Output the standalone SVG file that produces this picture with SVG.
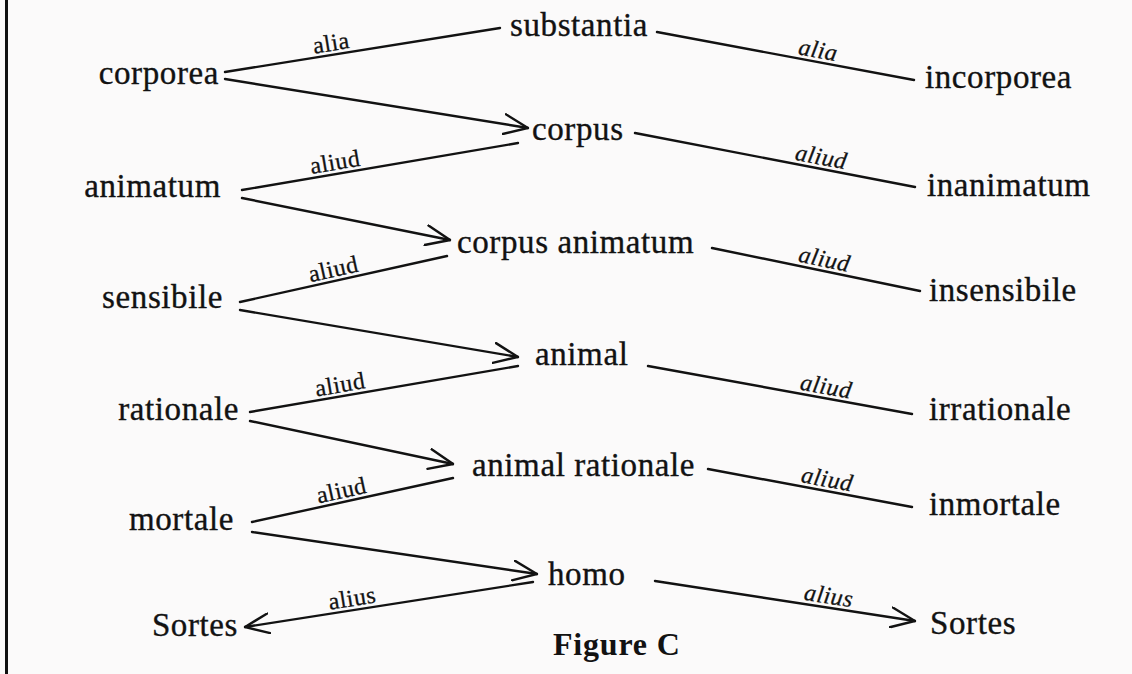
<svg xmlns="http://www.w3.org/2000/svg" width="1132" height="674" viewBox="0 0 1132 674">
<style>
.n{font-family:"Liberation Serif","Times New Roman",serif;font-size:33px;letter-spacing:0.6px;fill:#121212;stroke:#121212;stroke-width:0.35px}
.l{font-family:"Liberation Serif","Times New Roman",serif;font-size:24px;letter-spacing:0.5px;fill:#121212;stroke:#121212;stroke-width:0.3px;text-anchor:middle}
.i{font-style:italic}
.c line{stroke:#121212;stroke-width:2.4;stroke-linecap:round;fill:none}
.e{text-anchor:end}
.t{font-family:"Liberation Serif","Times New Roman",serif;font-size:32px;font-weight:bold;letter-spacing:0.8px;fill:#121212}
</style>
<defs>
<marker id="arr" viewBox="0 0 26 22" refX="25" refY="11" markerWidth="26" markerHeight="22" markerUnits="userSpaceOnUse" orient="auto">
<path d="M1,1 L25,11 L1,21" fill="none" stroke="#121212" stroke-width="2.4" stroke-linecap="round" stroke-linejoin="miter"/>
</marker>
</defs>
<rect width="1132" height="674" fill="#fbfafa"/>
<rect x="5" y="0" width="3" height="674" fill="#111"/>

<g class="c" id="connectors">
<line x1="225" y1="72" x2="500" y2="28"/>
<line x1="225" y1="79" x2="528" y2="128" marker-end="url(#arr)"/>
<line x1="657" y1="32" x2="914" y2="80"/>
<line x1="242" y1="190" x2="518" y2="143"/>
<line x1="242" y1="198" x2="450" y2="240" marker-end="url(#arr)"/>
<line x1="635" y1="133" x2="915" y2="187"/>
<line x1="240" y1="302" x2="447" y2="256"/>
<line x1="240" y1="310" x2="518" y2="357" marker-end="url(#arr)"/>
<line x1="712" y1="248" x2="920" y2="291"/>
<line x1="648" y1="366" x2="912" y2="414"/>
<line x1="250" y1="412" x2="518" y2="366"/>
<line x1="250" y1="421" x2="453" y2="464" marker-end="url(#arr)"/>
<line x1="708" y1="469" x2="912" y2="507"/>
<line x1="252" y1="522" x2="453" y2="478"/>
<line x1="252" y1="532" x2="537" y2="574" marker-end="url(#arr)"/>
<line x1="655" y1="581" x2="915" y2="621" marker-end="url(#arr)"/>
<line x1="533" y1="582" x2="245" y2="627" marker-end="url(#arr)"/>
</g>

<g id="labels">
<text class="l" transform="translate(333,54.7) rotate(-9.09)" y="-4">alia</text>
<text class="l i" transform="translate(816,61.7) rotate(10.58)" y="-4">alia</text>
<text class="l" transform="translate(337,173.8) rotate(-9.66)" y="-4">aliud</text>
<text class="l i" transform="translate(819,168.5) rotate(10.92)" y="-4">aliud</text>
<text class="l" transform="translate(336,280.7) rotate(-12.53)" y="-4">aliud</text>
<text class="l i" transform="translate(822,270.7) rotate(11.68)" y="-4">aliud</text>
<text class="l i" transform="translate(824,398) rotate(10.3)" y="-4">aliud</text>
<text class="l" transform="translate(342,396.2) rotate(-9.74)" y="-4">aliud</text>
<text class="l i" transform="translate(825,490.8) rotate(10.55)" y="-4">aliud</text>
<text class="l" transform="translate(344,501.9) rotate(-12.35)" y="-4">aliud</text>
<text class="l i" transform="translate(827,607.5) rotate(8.75)" y="-4">alius</text>
<text class="l" transform="translate(354,610) rotate(-8.88)" y="-4">alius</text>
</g>

<g id="n-substantia"><text class="n" x="510" y="36">substantia</text></g>
<g id="n-corporea"><text class="n e" x="219" y="84">corporea</text></g>
<g id="n-incorporea"><text class="n" x="925" y="88">incorporea</text></g>
<g id="n-corpus"><text class="n" x="532" y="140">corpus</text></g>
<g id="n-animatum"><text class="n e" x="221" y="197">animatum</text></g>
<g id="n-inanimatum"><text class="n" x="927" y="196">inanimatum</text></g>
<g id="n-corpus-animatum"><text class="n" x="457" y="253">corpus animatum</text></g>
<g id="n-sensibile"><text class="n e" x="223" y="308">sensibile</text></g>
<g id="n-insensibile"><text class="n" x="929" y="301">insensibile</text></g>
<g id="n-animal"><text class="n" x="535" y="365">animal</text></g>
<g id="n-rationale"><text class="n e" x="239" y="420">rationale</text></g>
<g id="n-irrationale"><text class="n" x="929" y="420">irrationale</text></g>
<g id="n-animal-rationale"><text class="n" x="472" y="476">animal rationale</text></g>
<g id="n-inmortale"><text class="n" x="929" y="515">inmortale</text></g>
<g id="n-mortale"><text class="n e" x="234" y="530">mortale</text></g>
<g id="n-homo"><text class="n" x="548" y="585">homo</text></g>
<g id="n-sortes-left"><text class="n e" x="238" y="636">Sortes</text></g>
<g id="n-sortes-right"><text class="n" x="930" y="634">Sortes</text></g>
<g id="caption"><text class="t" x="553" y="655">Figure C</text></g>
</svg>
